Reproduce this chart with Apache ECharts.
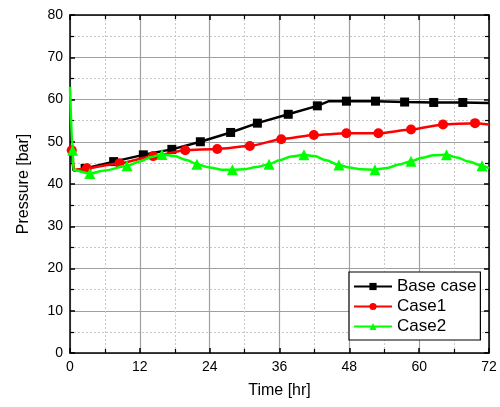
<!DOCTYPE html>
<html>
<head>
<meta charset="utf-8">
<script src="https://cdn.jsdelivr.net/npm/echarts@6/dist/echarts.min.js"></script>
<style>html,body{margin:0;padding:0;background:#fff}#c{width:500px;height:407px}</style>
</head>
<body>
<div id="c"></div>
<script>
const seriesNames = ['Base case', 'Case1', 'Case2'];
const xTicks = [0, 12, 24, 36, 48, 60, 72];
const yTicks = [0, 10, 20, 30, 40, 50, 60, 70, 80];

const baseTime = [0, 0.3, 0.6, 2.6, 7.5, 12.6, 17.5, 22.4, 27.6, 32.2, 37.5, 42.5, 44.5, 47.5, 52.5, 57.5, 62.5, 67.5, 72];
const basePressure = [48, 47.5, 43.2, 43.7, 45.3, 46.9, 48.2, 50.0, 52.2, 54.4, 56.5, 58.5, 59.6, 59.6, 59.6, 59.4, 59.3, 59.3, 59.2];
const baseMarked = [3, 4, 5, 6, 7, 8, 9, 10, 11, 13, 14, 15, 16, 17];

const case1Time = [0, 0.3, 0.7, 2.9, 8.5, 14.3, 19.8, 25.3, 30.9, 36.3, 41.9, 47.5, 53.0, 58.6, 64.1, 69.6, 72];
const case1Pressure = [49, 48, 43.3, 43.7, 44.9, 46.6, 48.0, 48.3, 49.0, 50.6, 51.6, 52.0, 52.0, 52.9, 54.1, 54.4, 54.1];
const case1Marked = [1, 3, 4, 5, 6, 7, 8, 9, 10, 11, 12, 13, 14, 15];

const case2Time = [0, 0.45, 0.6, 3.4, 6, 9.8, 12, 14, 15.8, 18, 20, 21.8, 24, 26, 27.9, 30, 32, 34.2, 36, 38, 40.2, 42, 44, 46.2, 48, 50, 52.4, 54.5, 56.5, 58.6, 60.5, 62.5, 64.7, 66.5, 68.5, 70.8, 72];
const case2Pressure = [63, 48, 43.3, 42.5, 43.2, 44.3, 45.3, 46.4, 47.0, 46.6, 45.7, 44.7, 43.9, 43.4, 43.4, 43.5, 44.0, 44.7, 45.6, 46.5, 46.9, 46.6, 45.6, 44.5, 43.9, 43.5, 43.4, 43.8, 44.6, 45.4, 46.2, 46.8, 46.9, 46.3, 45.3, 44.3, 43.7];
const case2Marked = [1, 3, 5, 8, 11, 14, 17, 20, 23, 26, 29, 32, 35];

function build(times, vals, marked, size) {
  return times.map((t, i) => ({
    value: [t, vals[i]],
    symbolSize: marked.indexOf(i) >= 0 ? size : 0
  }));
}

const chart = echarts.init(document.getElementById('c'), null, {renderer: 'canvas'});
const FONT = 'Liberation Sans, Arial, sans-serif';

function axisCommon(extra) {
  return Object.assign({
    axisLine: {show: true, onZero: false, lineStyle: {color: '#000', width: 1.5}},
    axisTick: {show: true, inside: true, length: 5, lineStyle: {color: '#000', width: 1.5}},
    minorTick: {show: true, splitNumber: 2, length: 4, lineStyle: {color: '#000', width: 1.2}},
  }, extra);
}

chart.setOption({
  animation: false,
  backgroundColor: '#fff',
  grid: {left: 70, top: 15, right: 11, bottom: 54, containLabel: false},
  legend: {
    orient: 'vertical',
    left: 349, top: 272,
    data: seriesNames,
    backgroundColor: '#fff',
    borderColor: '#000', borderWidth: 1.2,
    padding: [6, 4, 5, 4],
    itemWidth: 38, itemHeight: 9, itemGap: 3,
    textStyle: {fontFamily: FONT, fontSize: 17, color: '#000', lineHeight: 17},
    z: 10
  },
  xAxis: [
    axisCommon({
      type: 'value', min: 0, max: 72, interval: 12, position: 'bottom',
      name: 'Time [hr]', nameLocation: 'middle', nameGap: 30,
      nameTextStyle: {fontFamily: FONT, fontSize: 16, color: '#000'},
      axisLabel: {fontFamily: FONT, fontSize: 14, color: '#000', margin: 7,
        formatter: v => xTicks.indexOf(v) >= 0 ? String(v) : ''},
      splitLine: {show: true, lineStyle: {color: '#a0a0a0', width: 1.2}},
      minorSplitLine: {show: true, lineStyle: {color: '#c8c8c8', type: [2, 2], width: 1}}
    }),
    axisCommon({
      type: 'value', min: 0, max: 72, interval: 12, position: 'top',
      axisLabel: {show: false}, splitLine: {show: false}
    })
  ],
  yAxis: [
    axisCommon({
      type: 'value', min: 0, max: 80, interval: 10, position: 'left',
      name: 'Pressure [bar]', nameLocation: 'middle', nameGap: 38,
      nameTextStyle: {fontFamily: FONT, fontSize: 16, color: '#000'},
      axisLabel: {fontFamily: FONT, fontSize: 14, color: '#000', margin: 7,
        formatter: v => yTicks.indexOf(v) >= 0 ? String(v) : ''},
      splitLine: {show: true, lineStyle: {color: '#a0a0a0', width: 1.2}},
      minorSplitLine: {show: true, lineStyle: {color: '#c8c8c8', type: [2, 2], width: 1}}
    }),
    axisCommon({
      type: 'value', min: 0, max: 80, interval: 10, position: 'right',
      axisLabel: {show: false}, splitLine: {show: false}
    })
  ],
  series: [
    {
      name: seriesNames[0], type: 'line', symbol: 'rect', symbolSize: 9,
      itemStyle: {color: '#000'}, lineStyle: {color: '#000', width: 2.5},
      data: build(baseTime, basePressure, baseMarked, 9), z: 3
    },
    {
      name: seriesNames[1], type: 'line', symbol: 'circle', symbolSize: 10,
      itemStyle: {color: '#ff0000'}, lineStyle: {color: '#ff0000', width: 2.5},
      smooth: 0.2, smoothMonotone: 'x',
      data: build(case1Time, case1Pressure, case1Marked, 10), z: 4
    },
    {
      name: seriesNames[2], type: 'line', symbol: 'triangle', symbolSize: 11,
      itemStyle: {color: '#00ff00'}, lineStyle: {color: '#00ff00', width: 2.5},
      smooth: 0.3, smoothMonotone: 'x',
      data: build(case2Time, case2Pressure, case2Marked, 11), z: 5
    }
  ]
});
</script>
</body>
</html>
